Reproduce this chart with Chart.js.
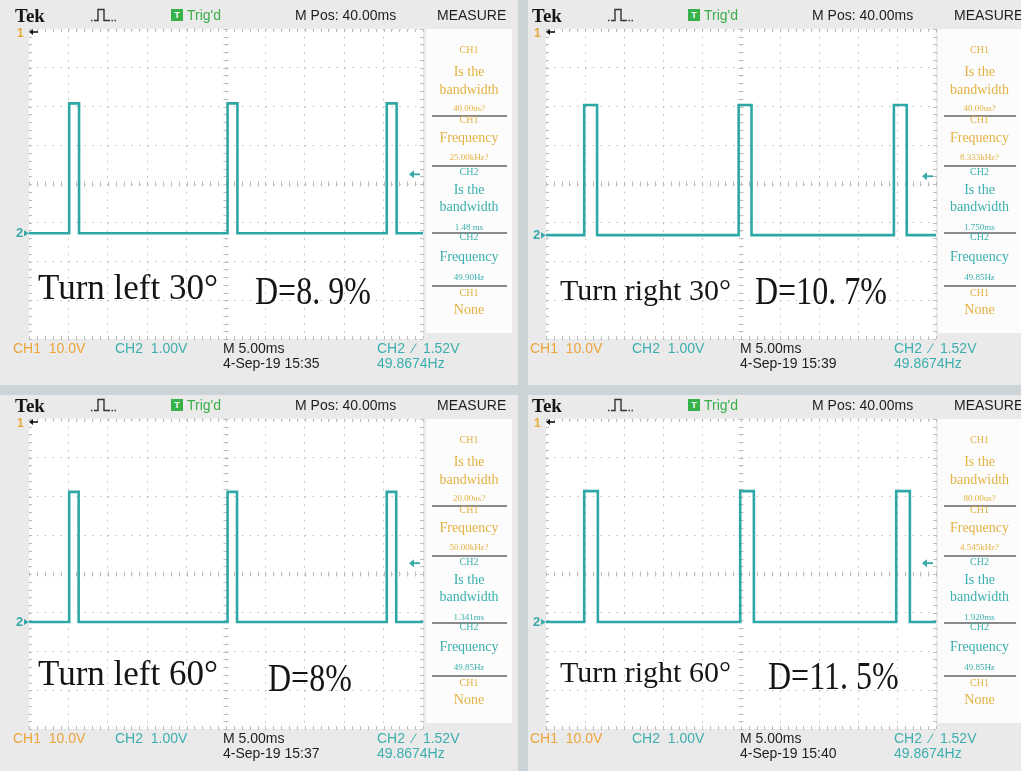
<!DOCTYPE html>
<html>
<head>
<meta charset="utf-8">
<title>Turn PWM waveforms</title>
<script src="https://cdn.jsdelivr.net/npm/chart.js@4.4.1/dist/chart.umd.min.js"></script>
<style>
html,body{margin:0;padding:0;}
body{width:1021px;height:771px;overflow:hidden;position:relative;background:#cdd4d8;font-family:"Liberation Sans",Arial,sans-serif;}
.abs{position:absolute;white-space:pre;}
.panel{position:absolute;background:#eaeaea;}
.plot{position:absolute;background:#ffffff;}
.measure{position:absolute;background:#fcfcfc;}
.serif{font-family:"Liberation Serif","Times New Roman",serif;}
canvas{position:absolute;}
</style>
</head>
<body>
<script>
/* =========================
   Scope data
========================= */

const panelTitles = ["Turn left 30°", "Turn right 30°", "Turn left 60°", "Turn right 60°"];
const dutyTexts = ["D=8. 9%", "D=10. 7%", "D=8%", "D=11. 5%"];

// time axis: M 5.00ms / div, 10 div
const timeTicks = [0, 5, 10, 15, 20, 25, 30, 35, 40, 45, 50];
// vertical axis: 8 div, CH2 1.00V / div
const divTicks = [-4, -3, -2, -1, 0, 1, 2, 3, 4];

// CH2 pulse rising edges (ms from left edge of screen)
const pulseStartsTL = [5.1, 25.2, 45.4];
const pulseStartsTR = [4.9, 24.7, 44.6];
const pulseStartsBL = [5.1, 25.2, 45.4];
const pulseStartsBR = [4.9, 24.9, 44.9];
const pulseStarts = [pulseStartsTL, pulseStartsTR, pulseStartsBL, pulseStartsBR];

const pulseWidths = [1.25, 1.65, 1.2, 1.75];   // ms
const pulseHigh = [3.35, 3.36, 3.36, 3.38];    // V above ground
const ch2Ground = [-1.27, -1.32, -1.24, -1.24]; // div from centre
const trigLevel = [1.52, 1.52, 1.52, 1.52];    // V

// MEASURE column
const ch1Width = ["40.00us?", "40.00us?", "20.00us?", "80.00us?"];
const ch1Freq = ["25.00kHz?", "8.333kHz?", "50.00kHz?", "4.545kHz?"];
const ch2Width = ["1.48 ms", "1.750ms", "1.341ms", "1.920ms"];
const ch2Freq = ["49.90Hz", "49.85Hz", "49.85Hz", "49.85Hz"];

// status bar
const clockTimes = ["15:35", "15:39", "15:37", "15:40"];
const ch1Scale = "10.0V";
const ch2Scale = "1.00V";
const timeScale = "5.00ms";
const mPos = "40.00ms";
const trigFreq = "49.8674Hz";


/* =========================
   Layout
========================= */

const C1 = "#e4b244";
const C2 = "#3cafae";
const GRID = "#bdbdbd";

const layout = [
  {dx:0,   dy:0,   pw:394, bg:[0,0,518,385],     mx:426, mw:86, name:[38,300,35], duty:[255,305]},
  {dx:517, dy:0,   pw:390, bg:[528,0,493,385],   mx:421, mw:83, name:[43,300,30], duty:[238,305]},
  {dx:0,   dy:390, pw:394, bg:[0,395,518,376],   mx:426, mw:86, name:[38,296,35], duty:[268,302]},
  {dx:517, dy:390, pw:390, bg:[528,395,493,376], mx:421, mw:83, name:[43,292,30], duty:[251,300]}
];


/* =========================
   Helpers
========================= */

function box(cls, x, y, w, h){
  let d = document.createElement("div");
  d.className = cls;
  d.style.left = x + "px"; d.style.top = y + "px";
  d.style.width = w + "px"; d.style.height = h + "px";
  document.body.appendChild(d);
  return d;
}

// text centred vertically on y
function label(str, x, y, size, color, extra){
  let d = document.createElement("div");
  d.className = "abs" + (extra && extra.cls ? " " + extra.cls : "");
  d.textContent = str;
  d.style.fontSize = size + "px";
  d.style.lineHeight = (size * 1.2) + "px";
  d.style.top = (y - size * 0.6) + "px";
  d.style.color = color;
  if(extra && extra.center){
    d.style.left = (x - 100) + "px"; d.style.width = "200px"; d.style.textAlign = "center";
  } else {
    d.style.left = x + "px";
  }
  if(extra && extra.bold) d.style.fontWeight = "bold";
  if(extra && extra.scale){ d.style.transform = "scaleX(" + extra.scale + ")"; d.style.transformOrigin = "left center"; }
  d.style.zIndex = 5;
  document.body.appendChild(d);
  return d;
}

function buildTrace(i){
  let lo = ch2Ground[i];
  let hi = ch2Ground[i] + pulseHigh[i];
  let pts = [{x: timeTicks[0], y: lo}];
  pulseStarts[i].forEach(s=>{
    pts.push({x:s, y:lo}, {x:s, y:hi}, {x:s + pulseWidths[i], y:hi}, {x:s + pulseWidths[i], y:lo});
  });
  pts.push({x: timeTicks[timeTicks.length - 1], y: lo});
  return pts;
}


/* =========================
   Graticule + markers plugin
========================= */

const scopeDecor = {
  id: "scopeDecor",
  beforeDatasetsDraw(chart){
    const {ctx, chartArea:a, scales:{x, y}} = chart;
    const cx = x.getPixelForValue(25), cy = y.getPixelForValue(0);
    ctx.save();
    ctx.strokeStyle = GRID;
    ctx.lineWidth = 1;
    ctx.beginPath();
    for(let t = 0; t <= 50; t++){
      let px = Math.round(x.getPixelForValue(t)) + 0.5;
      ctx.moveTo(px, cy - 2.5); ctx.lineTo(px, cy + 2.5);
      ctx.moveTo(px, a.top); ctx.lineTo(px, a.top + 3);
      ctx.moveTo(px, a.bottom); ctx.lineTo(px, a.bottom - 3);
    }
    for(let k = 0; k <= 40; k++){
      let py = Math.round(y.getPixelForValue(-4 + k * 0.2)) + 0.5;
      ctx.moveTo(cx - 2.5, py); ctx.lineTo(cx + 2.5, py);
      ctx.moveTo(a.left, py); ctx.lineTo(a.left + 3, py);
      ctx.moveTo(a.right, py); ctx.lineTo(a.right - 3, py);
    }
    ctx.stroke();
    ctx.restore();
  },
  afterDraw(chart, args, opts){
    const {ctx, chartArea:a, scales:{y}} = chart;
    ctx.save();
    // CH1 marker (off screen, top)
    ctx.font = "bold 12px 'Liberation Sans'";
    ctx.textBaseline = "middle";
    ctx.fillStyle = "#e9a93a";
    ctx.fillText("1", a.left - 12, a.top + 5);
    ctx.strokeStyle = "#111"; ctx.fillStyle = "#111"; ctx.lineWidth = 1.6;
    ctx.beginPath(); ctx.moveTo(a.left + 2, a.top + 3); ctx.lineTo(a.left + 9, a.top + 3); ctx.stroke();
    ctx.beginPath(); ctx.moveTo(a.left, a.top + 3); ctx.lineTo(a.left + 4, a.top); ctx.lineTo(a.left + 4, a.top + 6); ctx.fill();
    // CH2 ground marker
    const gy = y.getPixelForValue(opts.ground);
    ctx.fillStyle = "#36a9a8";
    ctx.font = "bold 13px 'Liberation Sans'";
    ctx.fillText("2", a.left - 13, gy);
    ctx.beginPath(); ctx.moveTo(a.left - 5, gy - 3); ctx.lineTo(a.left, gy); ctx.lineTo(a.left - 5, gy + 3); ctx.fill();
    // trigger level arrow
    const ty = y.getPixelForValue(opts.ground + opts.trig);
    ctx.strokeStyle = "#36a9a8"; ctx.lineWidth = 1.8;
    ctx.beginPath(); ctx.moveTo(a.right - 12, ty); ctx.lineTo(a.right - 3, ty); ctx.stroke();
    ctx.beginPath(); ctx.moveTo(a.right - 14, ty); ctx.lineTo(a.right - 9, ty - 4); ctx.lineTo(a.right - 9, ty + 4); ctx.fill();
    ctx.restore();
  }
};


/* =========================
   One scope screen
========================= */

function drawPanel(i){
  const L = layout[i];
  const left = L.dx + 29, top = L.dy + 29, w = L.pw, h = 310;

  box("panel", L.bg[0], L.bg[1], L.bg[2], L.bg[3]);
  box("plot", left, top, w, h);
  box("measure", L.dx + L.mx, top, L.mw, 304);

  // header
  label("Tek", L.dx + 15, L.dy + 16, 19, "#151515", {cls:"serif", bold:true});
  let icon = document.createElement("div");
  icon.className = "abs";
  icon.style.left = (L.dx + 91) + "px"; icon.style.top = (L.dy + 8) + "px";
  icon.innerHTML = '<svg width="30" height="14"><path d="M0 12.5 H1.5 M3 12.5 H7 V1.5 H13 V12.5 H19 M20.5 12.5 H22 M23.5 12.5 H25" stroke="#333" stroke-width="1.4" fill="none"/></svg>';
  document.body.appendChild(icon);
  let tb = box("abs", L.dx + 171, L.dy + 9, 12, 12);
  tb.style.background = "#37b24a"; tb.style.color = "#fff"; tb.style.font = "bold 9px 'Liberation Sans'";
  tb.style.textAlign = "center"; tb.style.lineHeight = "12px"; tb.textContent = "T";
  label("Trig'd", L.dx + 187, L.dy + 15, 14, "#3aae48");
  label("M Pos: " + mPos, L.dx + 295, L.dy + 15, 14, "#1e1e1e");
  label("MEASURE", L.dx + 437, L.dy + 15, 14, "#1e1e1e");

  // footer
  label("CH1  " + ch1Scale, L.dx + 13, L.dy + 348, 14, "#eea43a");
  label("CH2  " + ch2Scale, L.dx + 115, L.dy + 348, 14, C2);
  label("M " + timeScale, L.dx + 223, L.dy + 348, 14, "#1e1e1e");
  label("4-Sep-19 " + clockTimes[i], L.dx + 223, L.dy + 363, 14, "#1e1e1e");
  label("CH2  \u2215  " + trigLevel[i].toFixed(2) + "V", L.dx + 377, L.dy + 348, 14, C2);
  label(trigFreq, L.dx + 377, L.dy + 363, 14, C2);

  // MEASURE column
  const mc = L.dx + L.mx + L.mw / 2;
  const rows = [
    ["CH1",50,10,C1], ["Is the",72,14,C1], ["bandwidth",90,14,C1], [ch1Width[i],108,9,C1],
    ["CH1",120,10,C1], ["Frequency",138,14,C1], [ch1Freq[i],157,9,C1],
    ["CH2",172,10,C2], ["Is the",190,14,C2], ["bandwidth",207,14,C2], [ch2Width[i],227,9,C2],
    ["CH2",237,10,C2], ["Frequency",257,14,C2], [ch2Freq[i],277,9,C2],
    ["CH1",293,10,C1], ["None",310,14,C1]
  ];
  rows.forEach(r=>label(r[0], mc, L.dy + r[1], r[2], r[3], {cls:"serif", center:true}));
  [115, 165, 232, 285].forEach(yy=>{
    let ln = box("abs", L.dx + L.mx + 6, L.dy + yy, L.mw - 11, 1.5);
    ln.style.background = "#8a8a8a";
  });

  // annotations
  label(panelTitles[i], L.dx + L.name[0], L.dy + L.name[1] - L.name[2] * 0.34, L.name[2], "#151515", {cls:"serif"});
  label(dutyTexts[i], L.dx + L.duty[0], L.dy + L.duty[1] - 40 * 0.34, 40, "#151515", {cls:"serif", scale:0.8});

  // waveform canvas
  const padL = 30, padT = 10, padR = 6, padB = 4;
  const cv = document.createElement("canvas");
  cv.width = w + padL + padR; cv.height = h + padT + padB;
  cv.style.left = (left - padL) + "px"; cv.style.top = (top - padT) + "px";
  cv.style.zIndex = 3;
  document.body.appendChild(cv);

  new Chart(cv, {
    type: "line",
    data: {
      datasets: [{
        data: buildTrace(i),
        borderColor: "#2ea8a7",
        borderWidth: 2.6,
        pointRadius: 0,
        tension: 0,
        fill: false
      }]
    },
    options: {
      responsive: false,
      animation: false,
      events: [],
      layout: {padding: {left:padL, top:padT, right:padR, bottom:padB}},
      plugins: {
        legend: {display:false},
        tooltip: {enabled:false},
        scopeDecor: {ground: ch2Ground[i], trig: trigLevel[i]}
      },
      scales: {
        x: {
          type: "linear",
          min: timeTicks[0], max: timeTicks[timeTicks.length - 1],
          ticks: {display:false, stepSize: timeTicks[1] - timeTicks[0]},
          grid: {color:GRID, lineWidth:1, drawTicks:false},
          border: {display:false, dash:[1.5, h / 40 - 1.5]}
        },
        y: {
          type: "linear",
          min: divTicks[0], max: divTicks[divTicks.length - 1],
          ticks: {display:false, stepSize: divTicks[1] - divTicks[0]},
          grid: {color:GRID, lineWidth:1, drawTicks:false},
          border: {display:false, dash:[1.5, w / 50 - 1.5]}
        }
      }
    },
    plugins: [scopeDecor]
  });
}


/* run */

for(let i = 0; i < 4; i++) drawPanel(i);

</script>
</body>
</html>
